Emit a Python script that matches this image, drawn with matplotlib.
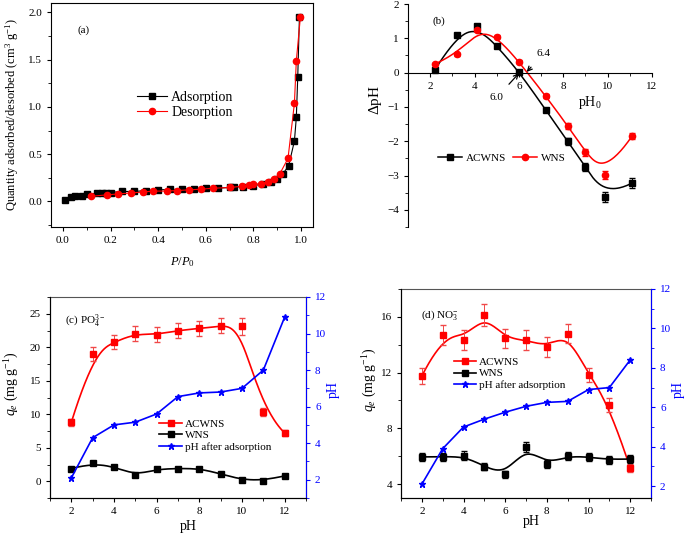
import numpy as np
import matplotlib
matplotlib.use('Agg')
import matplotlib.pyplot as plt
import matplotlib.ticker as ticker

plt.rcParams['font.family'] = ['Liberation Serif', 'DejaVu Serif']
plt.rcParams['mathtext.fontset'] = 'custom'
plt.rcParams['mathtext.rm'] = 'Liberation Serif'
plt.rcParams['mathtext.it'] = 'Liberation Serif:italic'
plt.rcParams['xtick.direction'] = 'out'
plt.rcParams['ytick.direction'] = 'out'

# ---------- data ----------
# (a) N2 isotherm
ads_p = [0.01, 0.035, 0.05, 0.08, 0.103, 0.142, 0.163, 0.18, 0.2, 0.25, 0.3, 0.35, 0.4,
         0.45, 0.5, 0.55, 0.6, 0.65, 0.7, 0.72, 0.756, 0.8, 0.84, 0.875, 0.9, 0.923,
         0.948, 0.972, 0.98, 0.986, 0.993]
ads_q = [0.018, 0.046, 0.053, 0.063, 0.077, 0.088, 0.088, 0.095, 0.095, 0.106, 0.106,
         0.116, 0.123, 0.127, 0.13, 0.134, 0.141, 0.141, 0.148, 0.15, 0.158, 0.169,
         0.183, 0.211, 0.24, 0.29, 0.38, 0.64, 0.89, 1.32, 1.95]
des_p = [0.997, 0.98, 0.972, 0.945, 0.91, 0.885, 0.86, 0.83, 0.8, 0.78, 0.75, 0.7,
         0.63, 0.58, 0.53, 0.48, 0.435, 0.38, 0.335, 0.285, 0.233, 0.184, 0.12]
des_q = [1.95, 1.49, 1.04, 0.455, 0.29, 0.24, 0.21, 0.19, 0.18, 0.17, 0.16, 0.148,
         0.14, 0.13, 0.123, 0.116, 0.11, 0.11, 0.1, 0.09, 0.08, 0.07, 0.055]

# (b) point of zero charge
ph0 = [2.2, 3.2, 4.1, 5.0, 6.0, 7.2, 8.2, 9.0, 9.9, 11.1]
dph_acwns = [0.07, 1.1, 1.35, 0.78, 0.03, -1.08, -2.0, -2.75, -3.62, -3.22]
dph_acwns_err = [0.03, 0.04, 0.05, 0.04, 0.04, 0.05, 0.1, 0.12, 0.15, 0.15]
dph_wns = [0.25, 0.53, 1.25, 1.05, 0.32, -0.68, -1.55, -2.32, -2.98, -1.85]
dph_wns_err = [0.03, 0.04, 0.05, 0.04, 0.04, 0.05, 0.08, 0.1, 0.12, 0.08]

# (c) phosphate vs pH
ph = [2, 3, 4, 5, 6, 7, 8, 9, 10, 11, 12]
po4_acwns = [8.8, 19.0, 20.8, 22.0, 21.9, 22.5, 22.8, 23.2, 23.1, 10.3, 7.2]
po4_acwns_err = [0.5, 1.0, 1.0, 1.1, 1.1, 1.1, 1.1, 1.1, 1.2, 0.6, 0.4]
po4_wns = [1.9, 2.7, 2.2, 0.9, 1.8, 1.9, 1.9, 1.1, 0.2, 0.1, 0.8]
po4_ph_after = [2.1, 4.3, 5.0, 5.15, 5.6, 6.55, 6.75, 6.8, 7.0, 8.0, 10.9]

# (d) nitrate vs pH
no3_acwns = [11.75, 14.7, 14.35, 16.15, 14.45, 14.35, 13.85, 14.8, 11.8, 9.7, 5.15]
no3_acwns_err = [0.55, 0.7, 0.7, 0.8, 0.7, 0.7, 0.7, 0.7, 0.5, 0.5, 0.3]
no3_wns = [5.95, 5.95, 6.05, 5.25, 4.7, 6.65, 5.45, 6.0, 5.95, 5.75, 5.8]
no3_wns_err = [0.3, 0.3, 0.3, 0.25, 0.25, 0.35, 0.3, 0.3, 0.3, 0.3, 0.3]
no3_ph_after = [2.1, 3.9, 5.0, 5.4, 5.75, 6.05, 6.25, 6.3, 6.9, 7.0, 8.4]


def bspline(xs, ys, n=400, k=3):
    '''clamped cubic B-spline using the points as control points (Origin style)'''
    P = np.column_stack([xs, ys]).astype(float)
    m = len(P)
    knots = np.concatenate([np.zeros(k), np.arange(m - k + 1), np.full(k, m - k)]).astype(float)
    t = np.linspace(0, m - k, n)
    N = np.zeros((n, len(knots) - 1))
    for i in range(len(knots) - 1):
        N[:, i] = (t >= knots[i]) & (t < knots[i + 1])
    N[t == knots[-1], m - 1] = 1
    for p in range(1, k + 1):
        Nn = np.zeros((n, len(knots) - 1 - p))
        for i in range(len(knots) - 1 - p):
            d1 = knots[i + p] - knots[i]
            d2 = knots[i + p + 1] - knots[i + 1]
            a = (t - knots[i]) / d1 * N[:, i] if d1 > 0 else 0
            b = (knots[i + p + 1] - t) / d2 * N[:, i + 1] if d2 > 0 else 0
            Nn[:, i] = a + b
        N = Nn
    c = N @ P
    return c[:, 0], c[:, 1]


W, H = 685, 535
fig = plt.figure(figsize=(W / 100, H / 100), dpi=100)


def box(l, t, r, b):
    return [l / W, 1 - b / H, (r - l) / W, (b - t) / H]


tick_fs = 8
lab_fs = 9

########## (a) ##########
ax = fig.add_axes(box(51, 3, 313, 227))
ax.plot(ads_p, ads_q, '-s', c='k', ms=4.5, lw=0.8, label='Adsorption')
ax.plot(des_p, des_q, '-o', c='red', ms=4.5, lw=0.8, label='Desorption')
ax.set_xlim(-0.05, 1.05)
ax.set_ylim(-0.27, 2.1)
ax.xaxis.set_major_locator(ticker.MultipleLocator(0.2))
ax.xaxis.set_minor_locator(ticker.MultipleLocator(0.1))
ax.yaxis.set_major_locator(ticker.MultipleLocator(0.5))
ax.yaxis.set_minor_locator(ticker.MultipleLocator(0.25))
ax.xaxis.set_major_formatter(ticker.FormatStrFormatter('%.1f'))
ax.yaxis.set_major_formatter(ticker.FormatStrFormatter('%.1f'))
ax.tick_params(labelsize=tick_fs, length=3)
ax.tick_params(which='minor', length=2)
ax.set_xlabel(r'$P$/$P_0$', fontsize=lab_fs)
ax.xaxis.set_label_coords(0.5, -0.125)
ax.set_ylabel(r'Quantity adsorbed/desorbed (cm$^3$ g$^{-1}$)', fontsize=lab_fs)
ax.yaxis.set_label_coords(-0.115, 0.5)
ax.text(0.06, 1.78, '(a)', fontsize=8)
ax.legend(loc='upper left', bbox_to_anchor=(0.3, 0.64), frameon=False, fontsize=10,
          handlelength=2.2, handletextpad=0.3, borderpad=0, labelspacing=0.15)

########## (b) ##########
ax = fig.add_axes(box(408, 4, 652, 227))
for y, e, col, mk, lab in [(dph_acwns, dph_acwns_err, 'k', 's', 'ACWNS'),
                           (dph_wns, dph_wns_err, 'red', 'o', 'WNS')]:
    cx, cy = bspline(ph0, y)
    ax.plot(cx, cy, c=col, lw=1.1)
    ax.errorbar(ph0, y, yerr=e, fmt=mk, c=col, ms=4.5, capsize=2, elinewidth=0.7)
    ax.plot([], [], '-' + mk, c=col, ms=4.5, lw=1.1, label=lab)
ax.set_xlim(1, 12)
ax.set_ylim(-4.5, 2)
ax.spines['top'].set_visible(False)
ax.spines['right'].set_visible(False)
ax.spines['bottom'].set_position(('data', 0))
ax.xaxis.set_major_locator(ticker.FixedLocator([2, 4, 6, 8, 10, 12]))
ax.xaxis.set_minor_locator(ticker.FixedLocator([3, 5, 7, 9, 11]))
ax.yaxis.set_major_locator(ticker.MultipleLocator(1))
ax.yaxis.set_minor_locator(ticker.MultipleLocator(0.5))
ax.tick_params(labelsize=tick_fs, length=3)
ax.tick_params(which='minor', length=2)
ax.text(9.2, -0.88, r'pH$_0$', fontsize=10, ha='center', va='center')
ax.set_ylabel(r'$\Delta$pH', fontsize=11)
ax.yaxis.set_label_coords(-0.098, 0.57)
ax.text(2.1, 1.5, '(b)', fontsize=8, va='center')
ax.annotate('6.4', xy=(6.35, 0.02), xytext=(7.1, 0.55), fontsize=8, ha='center', va='center',
            arrowprops=dict(arrowstyle='->', lw=0.9, shrinkB=0, shrinkA=6))
ax.annotate('6.0', xy=(6.0, -0.02), xytext=(5.0, -0.73), fontsize=8, ha='center', va='center',
            arrowprops=dict(arrowstyle='->', lw=0.9, shrinkB=0, shrinkA=6))
ax.legend(loc='center left', bbox_to_anchor=(0.1, 0.31), ncol=2, frameon=False, fontsize=8,
          handlelength=2.2, handletextpad=0.3, columnspacing=0.6, borderpad=0)


########## (c) and (d) ##########
def ph_panel(rect, qa, qa_err, qw, qw_err, ph_after, ylim, yticks, ylim2, label, label_xy,
             leg_xy, xlab_xy, ylab_xy, ylab2_xy):
    ax = fig.add_axes(rect)
    cx, cy = bspline(ph, qa)
    ax.plot(cx, cy, c='red', lw=1.2)
    ax.errorbar(ph, qa, yerr=qa_err, fmt='s', c='red', ms=4.5, capsize=2, elinewidth=0.7,
                ecolor='#f04848')
    cx, cy = bspline(ph, qw)
    ax.plot(cx, cy, c='k', lw=1.2)
    ax.errorbar(ph, qw, yerr=qw_err, fmt='s', c='k', ms=4.5, capsize=2, elinewidth=0.7)
    ax.set_xlim(1, 13)
    ax.set_ylim(*ylim)
    ax.xaxis.set_major_locator(ticker.FixedLocator([2, 4, 6, 8, 10, 12]))
    ax.xaxis.set_minor_locator(ticker.FixedLocator([1, 3, 5, 7, 9, 11, 13]))
    ax.yaxis.set_major_locator(ticker.FixedLocator(yticks))
    ax.yaxis.set_minor_locator(ticker.AutoMinorLocator(2))
    ax.tick_params(labelsize=tick_fs, length=3, top=False)
    ax.tick_params(which='minor', length=2)
    ax.spines['top'].set_color('#555555')
    ax.set_xlabel('pH', fontsize=lab_fs + 1)
    ax.xaxis.set_label_coords(*xlab_xy)
    ax.set_ylabel(r'$q_e$ (mg g$^{-1}$)', fontsize=lab_fs + 1)
    ax.yaxis.set_label_coords(*ylab_xy)
    ax.text(*label_xy, label, transform=ax.transAxes, fontsize=8, va='center')

    ax2 = ax.twinx()
    ax2.plot(ph, ph_after, '-*', c='blue', ms=5, lw=1.2)
    ax2.set_ylim(*ylim2)
    ax2.yaxis.set_major_locator(ticker.MultipleLocator(2))
    ax2.yaxis.set_minor_locator(ticker.MultipleLocator(1))
    ax2.spines['right'].set_color('blue')
    ax2.spines['top'].set_visible(False)
    ax2.tick_params(axis='y', colors='blue', labelsize=tick_fs, length=3)
    ax2.tick_params(which='minor', length=2, colors='blue')
    ax2.set_ylabel('pH', color='blue', fontsize=lab_fs + 1)
    ax2.yaxis.set_label_coords(*ylab2_xy)

    h1, = ax.plot([], [], '-s', c='red', ms=4.5, lw=1.2)
    h2, = ax.plot([], [], '-s', c='k', ms=4.5, lw=1.2)
    h3, = ax.plot([], [], '-*', c='blue', ms=5, lw=1.2)
    ax2.legend([h1, h2, h3], ['ACWNS', 'WNS', 'pH after adsorption'], loc='upper left',
               bbox_to_anchor=leg_xy, frameon=False, fontsize=8, handlelength=2.0,
               handletextpad=0.3, borderpad=0, labelspacing=0.15)
    return ax


ph_panel(box(50, 297, 306, 498), po4_acwns, po4_acwns_err, po4_wns, None, po4_ph_after,
         (-2.5, 27.5), [0, 5, 10, 15, 20, 25], (1, 12), r'(c) PO$_4^{3-}$', (0.06, 0.885),
         (0.406, 0.42), (0.54, -0.11), (-0.113, 0.57), (1.082, 0.54))
ph_panel(box(401, 289, 651, 498), no3_acwns, no3_acwns_err, no3_wns, no3_wns_err, no3_ph_after,
         (3, 18), [4, 8, 12, 16], (1.4, 12), r'(d) NO$_3^{-}$', (0.08, 0.877),
         (0.188, 0.70), (0.52, -0.083), (-0.088, 0.565), (1.084, 0.52))

fig.savefig('out.png', dpi=100)
